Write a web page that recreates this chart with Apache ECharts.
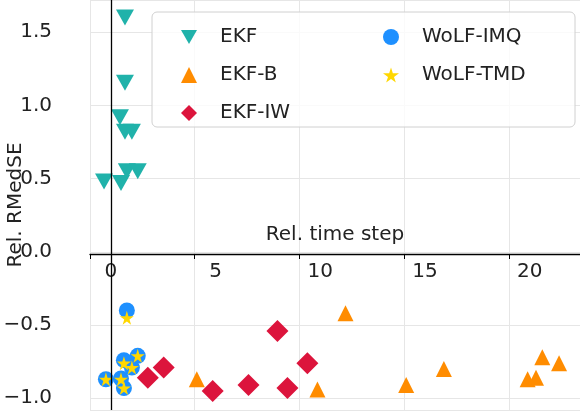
<!DOCTYPE html>
<html><head><meta charset="utf-8">
<script src="https://cdn.jsdelivr.net/npm/echarts@6/dist/echarts.min.js"></script>
<style>html,body{margin:0;padding:0;background:#fff}#main{width:580px;height:419px}</style>
</head><body><div id="main"></div>
<script>
var ekf = [[0.67,1.60],[0.67,1.155],[0.43,0.92],[0.67,0.82],[1.0,0.82],[-0.33,0.48],[0.48,0.47],[0.76,0.55],[1.28,0.55]];
var ekfB = [[4.1,-0.87],[9.86,-0.94],[11.2,-0.42],[14.1,-0.91],[15.9,-0.80],[19.9,-0.87],[20.3,-0.86],[20.6,-0.72],[21.4,-0.76]];
var ekfIW = [[1.76,-0.86],[2.52,-0.79],[4.86,-0.95],[6.57,-0.91],[7.95,-0.54],[8.43,-0.93],[9.38,-0.76]];
var wolfIMQ = [[0.76,-0.40],[-0.24,-0.87],[0.48,-0.865],[0.62,-0.74],[1.28,-0.71],[1.0,-0.79],[0.62,-0.93]];
var wolfTMD = [[0.76,-0.45],[-0.24,-0.87],[0.48,-0.87],[1.0,-0.79],[1.28,-0.71],[0.62,-0.93],[0.62,-0.76]];

var font = "DejaVu Sans";
var star = 'path://M50,0 L61,35 L98,35 L68,57 L79,91 L50,70 L21,91 L32,57 L2,35 L39,35 Z';
var triDown = 'path://M0,0 L100,0 L50,87 Z';
var chart = echarts.init(document.getElementById('main'));
function fmt(v){ return (v < 0 ? '\u2212' : '') + Math.abs(v).toFixed(1); }
var legendText = {fontSize: 20, color: '#222', padding: [0, 0, 0, 18]};
chart.setOption({
    animation: false,
    textStyle: {fontFamily: font},
    grid: {left: 90, right: 0, top: 0, bottom: 9, outerBoundsMode: 'none'},
    graphic: [{
        type: 'rect', shape: {x: 152, y: 12, width: 423, height: 115, r: 5},
        style: {fill: 'rgba(255,255,255,0.8)', stroke: '#d0d0d0', lineWidth: 1}, z: 5
    }, {
        type: 'text', x: 16, y: 205, rotation: Math.PI / 2,
        style: {text: 'Rel. RMedSE', font: '20px "DejaVu Sans"', fill: '#222', align: 'center', verticalAlign: 'middle'}
    }],
    legend: [{
        data: [{name: 'EKF', icon: triDown}, {name: 'EKF-B', icon: 'triangle'}, {name: 'EKF-IW', icon: 'diamond'}],
        orient: 'vertical', left: 176, top: 22,
        itemWidth: 16, itemHeight: 16, itemGap: 18, z: 6, textStyle: legendText
    }, {
        data: [{name: 'WoLF-IMQ', icon: 'circle'}, {name: 'WoLF-TMD', icon: star}],
        orient: 'vertical', left: 378, top: 22,
        itemWidth: 16, itemHeight: 16, itemGap: 18, z: 6, textStyle: legendText
    }],
    xAxis: {
        type: 'value', min: -1, max: 22.4,
        name: 'Rel. time step', nameLocation: 'middle', nameGap: -29,
        nameTextStyle: {fontSize: 20, color: '#222'},
        offset: -156,
        axisLine: {onZero: false, lineStyle: {color: '#000', width: 1.3}},
        axisTick: {show: true, length: 5, lineStyle: {color: '#000'}},
        axisLabel: {fontSize: 20, color: '#222', customValues: [0, 5, 10, 15, 20]},
        splitLine: {show: true, lineStyle: {color: '#e6e6e6'}},
        interval: 5
    },
    yAxis: {
        type: 'value', min: -1.08, max: 1.72,
        axisLine: {show: false, onZero: false},
        axisTick: {show: false},
        axisLabel: {fontSize: 20, color: '#222', margin: 38, formatter: fmt, customValues: [-1, -0.5, 0, 0.5, 1, 1.5]},
        splitLine: {show: true, lineStyle: {color: '#e6e6e6'}},
        splitNumber: 6
    },
    series: [
        {name: 'EKF', type: 'scatter', data: ekf, symbol: triDown, symbolSize: [18, 16],
         itemStyle: {color: '#20b2aa', opacity: 1},
         markLine: {silent: true, symbol: 'none', label: {show: false}, lineStyle: {color: '#000', width: 1.3, type: 'solid'},
                    data: [{xAxis: 0}]}},
        {name: 'EKF-B', type: 'scatter', data: ekfB, symbol: 'triangle', symbolSize: 16, itemStyle: {color: '#ff8c00', opacity: 1}},
        {name: 'EKF-IW', type: 'scatter', data: ekfIW, symbol: 'diamond', symbolSize: 22, itemStyle: {color: '#dc143c', opacity: 1}},
        {name: 'WoLF-IMQ', type: 'scatter', data: wolfIMQ, symbol: 'circle', symbolSize: 16, itemStyle: {color: '#1e90ff', opacity: 1}},
        {name: 'WoLF-TMD', type: 'scatter', data: wolfTMD, symbol: star, symbolSize: 14, itemStyle: {color: '#ffd700', opacity: 1}}
    ]
});
</script></body></html>
